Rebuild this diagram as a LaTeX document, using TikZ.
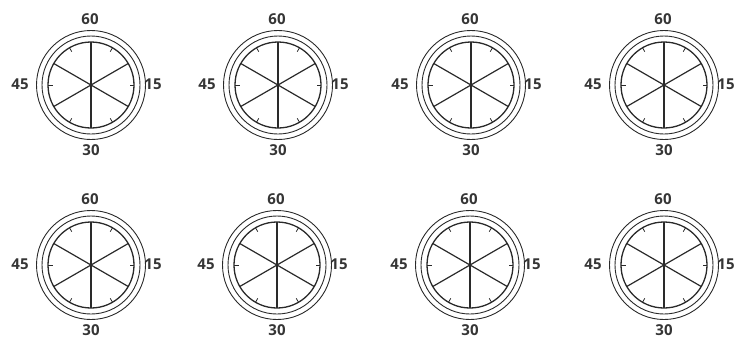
\documentclass[tikz,border=0pt]{standalone}
\usepackage{fontspec}
\setmainfont{Open Sans}
\usetikzlibrary{calc}
\definecolor{ink}{HTML}{2A2A2A}
\definecolor{txt}{HTML}{353535}
\begin{document}
\begin{tikzpicture}[x=1pt,y=-1pt,
  ringline/.style={draw=ink,line width=0.9pt},
  dialline/.style={draw=ink,line width=1.3pt},
  spoke/.style={draw=ink,line width=1.2pt},
  ticks/.style={draw=ink,line width=0.8pt},
  lbl/.style={text=txt,font=\fontsize{15}{15}\selectfont\bfseries,inner sep=0pt}]
\useasboundingbox (0,0) rectangle (744,349);
\foreach \n/\cx/\cy in {1/91/85,2/278/85,3/471/85,4/664/85,5/91/265,6/277/265,7/470/265,8/664/265}{
  \coordinate (c\n) at (\cx,\cy);
  \draw[ringline] (c\n) circle[radius=54.5];
  \draw[ringline] (c\n) circle[radius=49];
  \draw[dialline] (c\n) circle[radius=43];
  \foreach \a in {90,30,-30,-90,-150,150}
    \draw[spoke] (c\n) -- ++(\a:43);
  \foreach \a in {0,60,120,180,240,300}
    \draw[ticks] ($(c\n)+(\a:43)$) -- ($(c\n)+(\a:38.5)$);
  \node[lbl] (t\n) at ($(c\n)+(-1,-66)$) {60};
  \node[lbl] (b\n) at ($(c\n)+(0,65)$) {30};
  \node[lbl] (l\n) at ($(c\n)+(-71,-1)$) {45};
  \node[lbl] (r\n) at ($(c\n)+(62,-1)$) {15};
}
\end{tikzpicture}
\end{document}
